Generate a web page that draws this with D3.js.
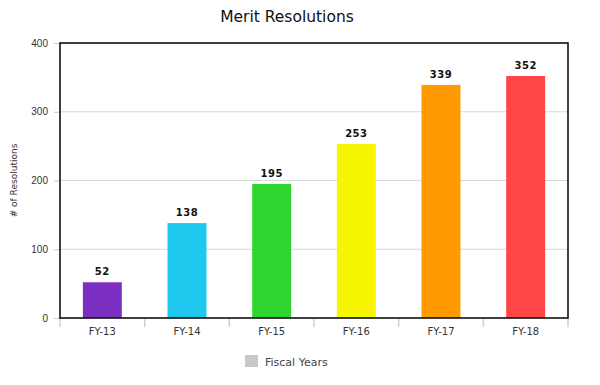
<!DOCTYPE html>
<html><head><meta charset="utf-8">
<script src="https://cdn.jsdelivr.net/npm/d3@7/dist/d3.min.js"></script>
<style>body{margin:0;background:#fff;}svg{display:block;font-family:"DejaVu Sans",Verdana,sans-serif;}</style>
</head><body>
<svg id="c" width="600" height="385"></svg>
<script>
const categories = ["FY-13","FY-14","FY-15","FY-16","FY-17","FY-18"];
const values = [52,138,195,253,339,352];
const colors = ["#7B2FC0","#1EC8EE","#2ED52E","#F8F500","#FF9A00","#FF4545"];
const yTicks = [0,100,200,300,400];

const svg = d3.select("#c");
const m = {l:60, r:32, t:43, b:67};
const W = 600, H = 385;
const x = d3.scaleBand().domain(categories).range([m.l, W-m.r]).paddingInner(0.54).paddingOuter(0.27);
const y = d3.scaleLinear().domain([0,400]).range([H-m.b, m.t]);

// gridlines
svg.append("g").selectAll("line").data(yTicks.slice(1,-1)).join("line")
  .attr("x1", m.l).attr("x2", W-m.r).attr("y1", d=>y(d)).attr("y2", d=>y(d))
  .attr("stroke","#d8d8d8").attr("stroke-width",1);

// y axis
const ya = svg.append("g").attr("transform",`translate(${m.l},0)`)
  .call(d3.axisLeft(y).tickValues(yTicks).tickSize(6).tickPadding(6));
ya.select(".domain").remove();
ya.selectAll("line").attr("stroke","#c8c8c8");
ya.selectAll("text").attr("fill","#333").style("font-size","10px");

// x axis ticks at band boundaries
const bounds = d3.range(categories.length+1).map(i => m.l + i*(W-m.r-m.l)/categories.length);
svg.append("g").selectAll("line").data(bounds).join("line")
  .attr("x1", d=>d).attr("x2", d=>d).attr("y1", H-m.b+1).attr("y2", H-m.b+9)
  .attr("stroke","#c8d0dc").attr("stroke-width",1.5);
svg.append("g").selectAll("text").data(categories).join("text")
  .attr("x", d=>x(d)+x.bandwidth()/2).attr("y", H-m.b+17)
  .attr("text-anchor","middle").attr("fill","#333").style("font-size","10px").text(d=>d);

// bars
svg.append("g").selectAll("rect").data(categories).join("rect")
  .attr("x", d=>x(d)).attr("width", x.bandwidth())
  .attr("y", (d,i)=>y(values[i])).attr("height",(d,i)=>y(0)-y(values[i]))
  .attr("fill",(d,i)=>colors[i]);

// value labels
svg.append("g").selectAll("text").data(categories).join("text")
  .attr("x", d=>x(d)+x.bandwidth()/2).attr("y",(d,i)=>y(values[i])-7)
  .attr("text-anchor","middle").attr("fill","#111").style("font-size","10px").style("font-weight","bold")
  .style("letter-spacing","0.5px")
  .text((d,i)=>values[i]);

// frame
svg.append("rect").attr("x", m.l).attr("y", m.t).attr("width", W-m.r-m.l).attr("height", H-m.b-m.t)
  .attr("fill","none").attr("stroke","#111").attr("stroke-width",1.6);

// title
svg.append("text").attr("x", 287).attr("y", 22).attr("text-anchor","middle")
  .attr("fill","#111").style("font-size","15.5px").text("Merit Resolutions");

// y title
svg.append("text").attr("transform",`translate(17,${(m.t+H-m.b)/2}) rotate(-90)`)
  .attr("text-anchor","middle").attr("fill","#333").style("font-size","9px").text("# of Resolutions");

// legend
svg.append("rect").attr("x",245).attr("y",355).attr("width",13).attr("height",12).attr("fill","#c8c8c8");
svg.append("text").attr("x",265).attr("y",366).attr("fill","#444").style("font-size","11px").text("Fiscal Years");
</script>
</body></html>
